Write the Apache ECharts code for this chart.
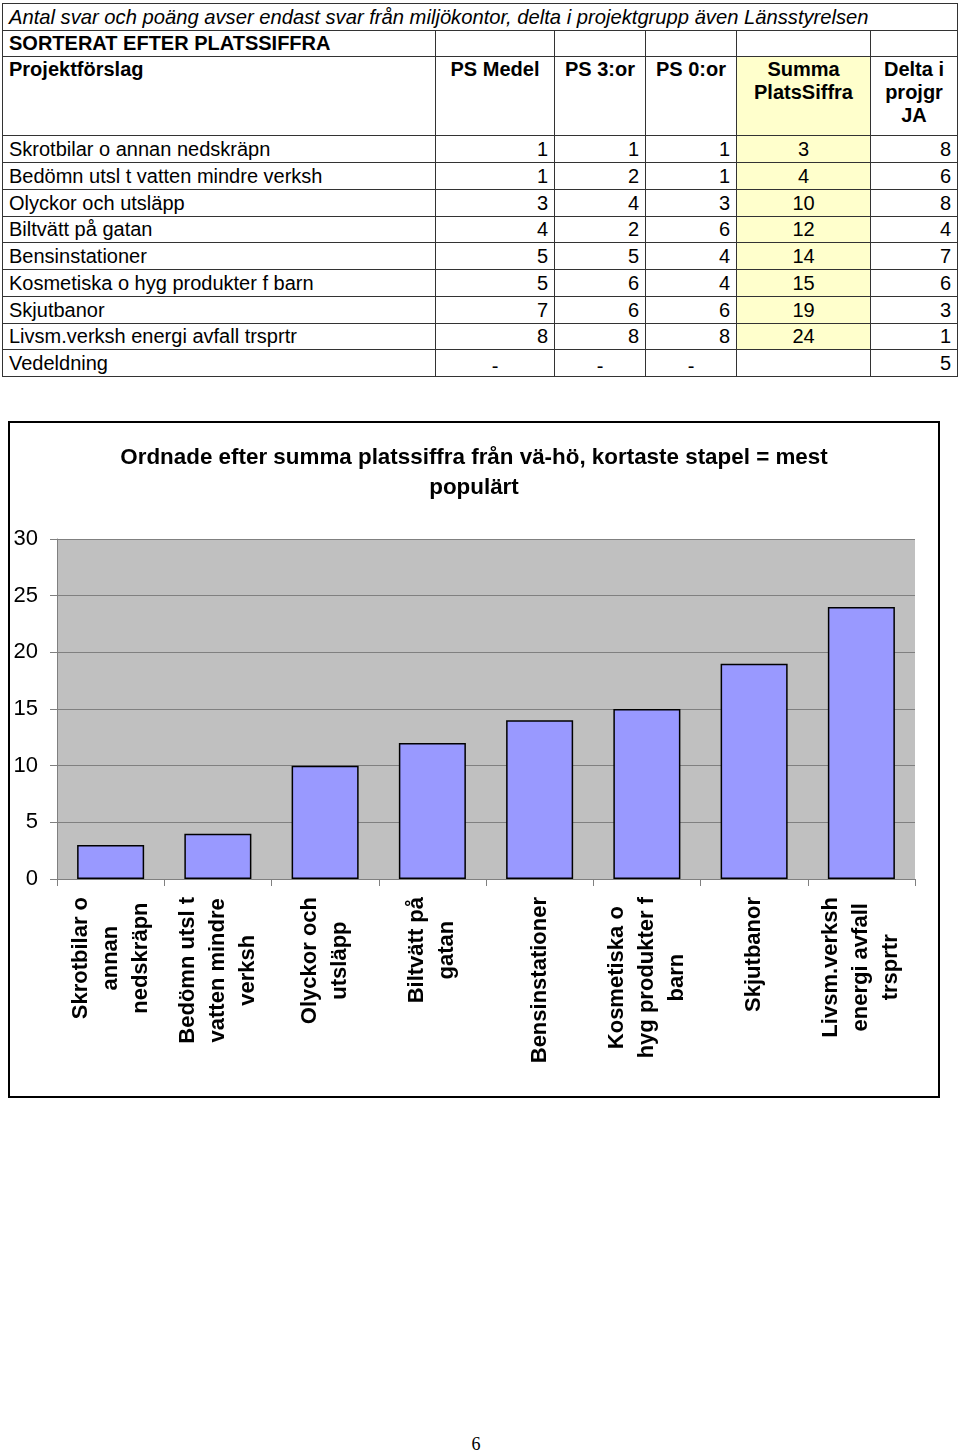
<!DOCTYPE html>
<html>
<head>
<meta charset="utf-8">
<script src="https://cdn.jsdelivr.net/npm/echarts@6.0.0/dist/echarts.min.js"></script>
<style>
html,body{margin:0;padding:0;background:#fff;width:960px;height:1455px;overflow:hidden;font-family:"Liberation Sans",Arial,sans-serif;color:#000;}
#tbl{position:absolute;left:2px;top:3px;border-collapse:collapse;table-layout:fixed;width:955px;font-size:20px;}
#tbl td{border:1px solid #333;padding:0 6px;white-space:nowrap;overflow:hidden;line-height:23px;vertical-align:middle;}
#tbl td.num{text-align:right;}
#tbl td.ctr{text-align:center;}
#tbl td.dash{text-align:center;padding-top:5px;line-height:20px;}
#tbl td.yel{background:#FFFFCC;}
#tbl tr.hdr td{vertical-align:top;padding-top:1px;font-weight:bold;}
#chart{position:absolute;left:8px;top:421px;width:932px;height:677px;}
#frame{position:absolute;left:8px;top:421px;width:932px;height:677px;border:2px solid #000;box-sizing:border-box;pointer-events:none;}
#page{position:absolute;left:466px;top:1434px;width:20px;text-align:center;font-family:"Liberation Serif","DejaVu Serif",serif;font-size:18px;}
</style>
</head>
<body>
<table id="tbl"></table>
<div id="chart"></div>
<div id="frame"></div>
<div id="page">6</div>
<script>
// ---- data ----
const noteText = "Antal svar och poäng avser endast svar från miljökontor, delta i projektgrupp även Länsstyrelsen";
const sortText = "SORTERAT EFTER PLATSSIFFRA";
const headers = ["Projektförslag", "PS Medel", "PS 3:or", "PS 0:or", "Summa<br>PlatsSiffra", "Delta i<br>projgr<br>JA"];
const projects = ["Skrotbilar o annan nedskräpn", "Bedömn utsl t vatten mindre verksh", "Olyckor och utsläpp", "Biltvätt på gatan", "Bensinstationer", "Kosmetiska o hyg produkter f barn", "Skjutbanor", "Livsm.verksh energi avfall trsprtr", "Vedeldning"];
const psMedel = [1, 1, 3, 4, 5, 5, 7, 8, null];
const ps3 = [1, 2, 4, 2, 5, 6, 6, 8, null];
const ps0 = [1, 1, 3, 6, 4, 4, 6, 8, null];
const summa = [3, 4, 10, 12, 14, 15, 19, 24, null];
const delta = [8, 6, 8, 4, 7, 6, 3, 1, 5];
const axisLabels = ["Skrotbilar o\nannan\nnedskräpn", "Bedömn utsl t\nvatten mindre\nverksh", "Olyckor och\nutsläpp", "Biltvätt på\ngatan", "Bensinstationer", "Kosmetiska o\nhyg produkter f\nbarn", "Skjutbanor", "Livsm.verksh\nenergi avfall\ntrsprtr"];
const yTicks = [0, 5, 10, 15, 20, 25, 30];
const chartTitle = "Ordnade efter summa platssiffra från vä-hö, kortaste stapel = mest\npopulärt";

// ---- table ----
(function () {
  const t = document.getElementById('tbl');
  const widths = [433, 119, 91, 91, 134, 87];
  let h = '<colgroup>' + widths.map(w => '<col style="width:' + w + 'px">').join('') + '</colgroup>';
  h += '<tr style="height:27px"><td colspan="6" style="font-style:italic;font-size:20.2px">' + noteText + '</td></tr>';
  h += '<tr style="height:26px"><td style="font-weight:bold">' + sortText + '</td><td></td><td></td><td></td><td></td><td></td></tr>';
  h += '<tr class="hdr" style="height:79px">' + headers.map((x, i) =>
    '<td style="' + (i > 0 ? 'text-align:center;' : '') + (i === 4 ? 'background:#FFFFCC;' : '') + '">' + x + '</td>').join('') + '</tr>';
  const rowH = [27, 27, 27, 26, 27, 27, 27, 26, 27];
  projects.forEach((p, i) => {
    const d = v => v === null ? '<td class="dash">-</td>' : '<td class="num">' + v + '</td>';
    h += '<tr style="height:' + rowH[i] + 'px"><td>' + p + '</td>' + d(psMedel[i]) + d(ps3[i]) + d(ps0[i]) +
      (summa[i] === null ? '<td class="ctr"></td>' : '<td class="ctr yel">' + summa[i] + '</td>') +
      '<td class="num">' + delta[i] + '</td></tr>';
  });
  t.innerHTML = h;
})();

// ---- chart ----
const chartCats = [], chartVals = [];
summa.forEach((v, i) => { if (v !== null) { chartCats.push(axisLabels[i]); chartVals.push(v); } });

const chart = echarts.init(document.getElementById('chart'), null, { renderer: 'canvas' });
chart.setOption({
  animation: false,
  backgroundColor: '#fff',
  title: {
    text: chartTitle,
    left: 'center',
    top: 22,
    padding: 0,
    textStyle: { fontFamily: 'Liberation Sans', fontSize: 22.4, fontWeight: 'bold', color: '#000', lineHeight: 30 }
  },
  grid: {
    left: 49, top: 118, width: 858, height: 340,
    show: true, backgroundColor: '#C0C0C0', borderWidth: 0,
    containLabel: false, outerBoundsMode: 'none'
  },
  xAxis: {
    type: 'category',
    data: chartCats,
    axisLine: { show: true, lineStyle: { color: '#808080', width: 1 } },
    axisTick: { show: true, length: 7, lineStyle: { color: '#808080' } },
    splitLine: { show: false },
    axisLabel: {
      interval: 0, rotate: 90, margin: 18, color: '#000',
      fontFamily: 'Liberation Sans', fontSize: 22, fontWeight: 'bold', lineHeight: 30,
      formatter: v => v.split('\n').map(s => '{c|' + s + '}').join('\n'),
      rich: { c: { align: 'center', fontFamily: 'Liberation Sans', fontSize: 22, fontWeight: 'bold', lineHeight: 30, color: '#000' } }
    }
  },
  yAxis: {
    type: 'value',
    min: yTicks[0], max: yTicks[yTicks.length - 1], interval: 5,
    axisLine: { show: true, lineStyle: { color: '#808080', width: 1 } },
    axisTick: { show: true, length: 7, lineStyle: { color: '#808080' } },
    splitLine: { show: true, lineStyle: { color: '#808080', width: 1 } },
    axisLabel: { margin: 19, color: '#000', fontFamily: 'Liberation Sans', fontSize: 22 }
  },
  series: [{
    type: 'bar',
    data: chartVals,
    barWidth: '62.5%',
    itemStyle: { color: '#9999FF', borderColor: '#000', borderWidth: 1.5 },
    emphasis: { disabled: true }
  }]
});
</script>
</body>
</html>
